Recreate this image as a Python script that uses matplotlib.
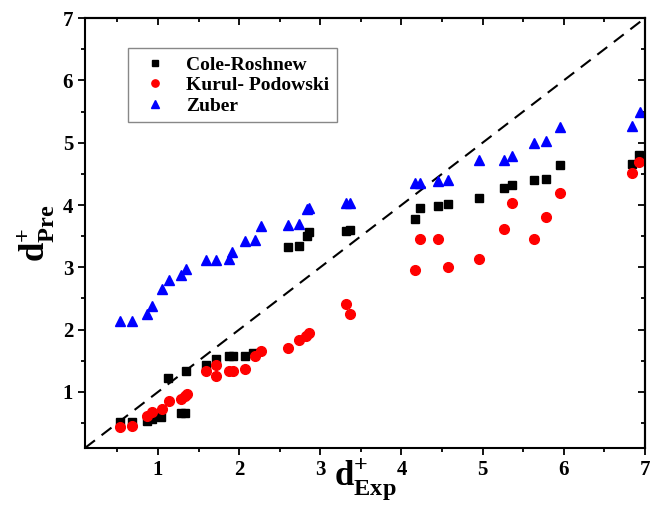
import matplotlib
matplotlib.use("Agg")
import matplotlib.pyplot as plt
from matplotlib.ticker import MultipleLocator

plt.rcParams['font.family'] = 'Liberation Serif'
plt.rcParams['font.weight'] = 'bold'
plt.rcParams['mathtext.fontset'] = 'custom'
plt.rcParams['mathtext.rm'] = 'Liberation Serif'
plt.rcParams['mathtext.bf'] = 'Liberation Serif:bold'

# d+ experimental vs predicted, one list per correlation
cole_x = [0.53, 0.68, 0.86, 0.93, 1.04, 1.12, 1.28, 1.33, 1.35, 1.59, 1.71, 1.88, 1.92, 2.07, 2.17,
          2.60, 2.74, 2.83, 2.86, 3.32, 3.37, 4.17, 4.23, 4.45, 4.58, 4.96, 5.27, 5.36, 5.63, 5.78,
          5.95, 6.84, 6.93]
cole_y = [0.51, 0.52, 0.535, 0.56, 0.59, 1.22, 0.66, 0.66, 1.34, 1.43, 1.52, 1.57, 1.57, 1.58, 1.62,
          3.33, 3.35, 3.51, 3.56, 3.58, 3.60, 3.77, 3.96, 3.99, 4.01, 4.11, 4.28, 4.32, 4.40, 4.41,
          4.64, 4.66, 4.80]

kurul_x = [0.53, 0.68, 0.86, 0.93, 1.045, 1.13, 1.28, 1.33, 1.36, 1.59, 1.71, 1.71, 1.88, 1.92, 2.07,
           2.19, 2.27, 2.60, 2.74, 2.82, 2.86, 3.32, 3.37, 4.17, 4.23, 4.45, 4.58, 4.96, 5.27, 5.36,
           5.63, 5.78, 5.95, 6.84, 6.93]
kurul_y = [0.43, 0.45, 0.61, 0.67, 0.72, 0.86, 0.88, 0.93, 0.96, 1.33, 1.43, 1.26, 1.34, 1.34, 1.36,
           1.58, 1.66, 1.70, 1.83, 1.90, 1.94, 2.41, 2.25, 2.95, 3.46, 3.46, 3.00, 3.13, 3.62, 4.04,
           3.45, 3.81, 4.20, 4.51, 4.69]

zuber_x = [0.53, 0.68, 0.86, 0.93, 1.045, 1.13, 1.28, 1.35, 1.59, 1.71, 1.88, 1.91, 2.07, 2.19, 2.27,
           2.60, 2.74, 2.84, 2.86, 3.32, 3.36, 4.17, 4.23, 4.45, 4.58, 4.96, 5.27, 5.36, 5.63, 5.78,
           5.95, 6.84, 6.94]
zuber_y = [2.13, 2.14, 2.25, 2.38, 2.65, 2.79, 2.88, 2.97, 3.11, 3.12, 3.13, 3.24, 3.42, 3.44, 3.66,
           3.68, 3.70, 3.93, 3.95, 4.04, 4.04, 4.35, 4.35, 4.39, 4.40, 4.73, 4.73, 4.79, 4.99, 5.03,
           5.26, 5.27, 5.49]

lims = [0.1, 7.0]

fig = plt.figure(figsize=(6.54, 5.05), dpi=100)
ax = fig.add_axes([0.130, 0.113, 0.856, 0.851])

ax.plot(lims, lims, color='black', linestyle=(0, (6, 4)), linewidth=1.5)
ax.plot(cole_x, cole_y, 's', color='black', markersize=6, label='Cole-Roshnew')
ax.plot(kurul_x, kurul_y, 'o', color='#ff0000', markeredgecolor='#ff0000', markersize=7,
        label='Kurul- Podowski')
ax.plot(zuber_x, zuber_y, '^', color='#0000ff', markersize=7, label='Zuber')

ax.set_xlim(lims)
ax.set_ylim(lims)
for axis in (ax.xaxis, ax.yaxis):
    axis.set_major_locator(MultipleLocator(1))
    axis.set_minor_locator(MultipleLocator(0.5))
ax.tick_params(which='both', direction='out', width=1.3, labelsize=15)
ax.tick_params(which='major', length=5)
ax.tick_params(which='minor', length=3)
for spine in ax.spines.values():
    spine.set_linewidth(1.5)

# mirrored ticks on top and right, pointing in
top = ax.secondary_xaxis('top')
right = ax.secondary_yaxis('right')
for sec, axis in ((top, top.xaxis), (right, right.yaxis)):
    axis.set_major_locator(MultipleLocator(1))
    axis.set_minor_locator(MultipleLocator(0.5))
    sec.tick_params(which='both', direction='in', width=1.3, labelleft=False, labelright=False,
                    labeltop=False, labelbottom=False)
    sec.tick_params(which='major', length=5)
    sec.tick_params(which='minor', length=3)
    for spine in sec.spines.values():
        spine.set_linewidth(1.5)

ax.set_xlabel(r'$\mathbf{d}^{\mathbf{+}}_{\mathbf{Exp}}$', fontsize=25, labelpad=-17)
ax.set_ylabel(r'$\mathbf{d}^{\mathbf{+}}_{\mathbf{Pre}}$', fontsize=25, labelpad=4)

ax.legend(loc='upper left', bbox_to_anchor=(0.077, 0.93), borderaxespad=0, fancybox=False,
          edgecolor='#888888', framealpha=1, markerscale=0.75, handletextpad=0.6, borderpad=0.4,
          labelspacing=0.15, prop={'family': 'Liberation Serif', 'weight': 'bold', 'size': 14})

fig.savefig('out.png', dpi=100)
